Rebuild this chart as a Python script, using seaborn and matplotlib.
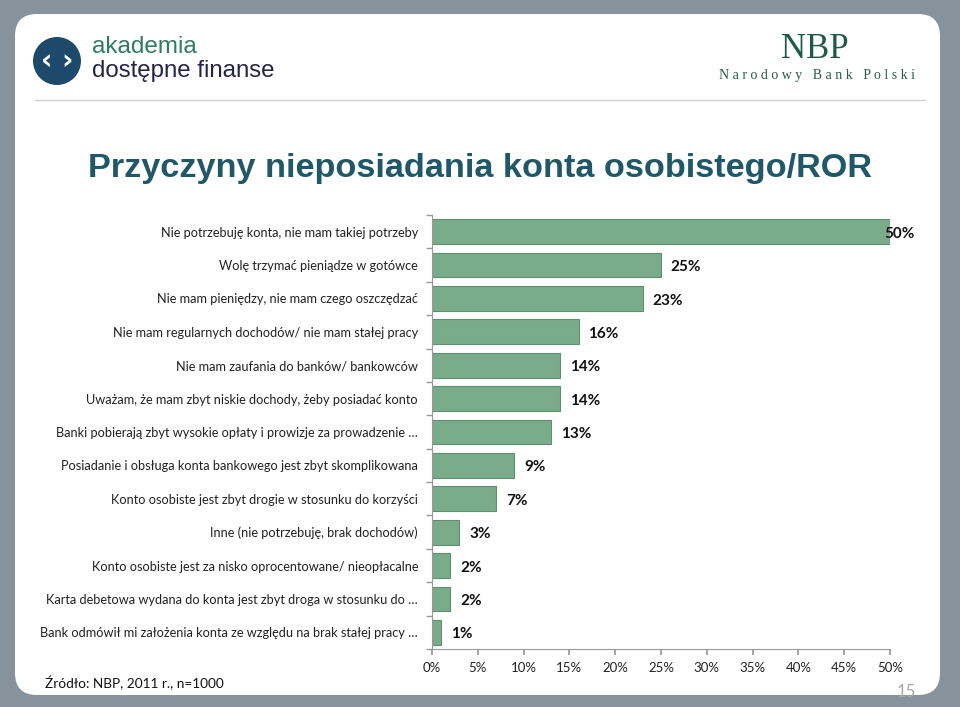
import matplotlib
matplotlib.use("Agg")
import matplotlib.pyplot as plt
from matplotlib.patches import FancyBboxPatch, Circle
from matplotlib.transforms import IdentityTransform
import numpy as np
import pandas as pd
import seaborn as sns

categories = [
    "Nie potrzebuję konta, nie mam takiej potrzeby",
    "Wolę trzymać pieniądze w gotówce",
    "Nie mam pieniędzy, nie mam czego oszczędzać",
    "Nie mam regularnych dochodów/ nie mam stałej pracy",
    "Nie mam zaufania do banków/ bankowców",
    "Uważam, że mam zbyt niskie dochody, żeby posiadać konto",
    "Banki pobierają zbyt wysokie opłaty i prowizje za prowadzenie …",
    "Posiadanie i obsługa konta bankowego jest zbyt skomplikowana",
    "Konto osobiste jest zbyt drogie w stosunku do korzyści",
    "Inne (nie potrzebuję, brak dochodów)",
    "Konto osobiste jest za nisko oprocentowane/ nieopłacalne",
    "Karta debetowa wydana do konta jest zbyt droga w stosunku do …",
    "Bank odmówił mi założenia konta ze względu na brak stałej pracy …",
]
values = [50, 25, 23, 16, 14, 14, 13, 9, 7, 3, 2, 2, 1]
xticks = [0, 5, 10, 15, 20, 25, 30, 35, 40, 45, 50]
xtick_labels = [f"{t}%" for t in xticks]

title = "Przyczyny nieposiadania konta osobistego/ROR"
source = "Źródło: NBP, 2011 r., n=1000"
page = "15"

sns.set_theme(style="white")
plt.rcParams["font.family"] = ["Lato", "DejaVu Sans"]

W, H = 960, 707
fig = plt.figure(figsize=(W / 100, H / 100), dpi=100)
fig.patch.set_facecolor("#86939c")

# white rounded panel (pixel coords, origin bottom-left)
panel = FancyBboxPatch((15, H - 695), 925, 681,
                       boxstyle="round,pad=0,rounding_size=22",
                       transform=IdentityTransform(), facecolor="white",
                       edgecolor="none", zorder=-5)
fig.patches.append(panel)

# header line
fig.add_artist(plt.Line2D([35 / W, 925 / W], [1 - 100 / H, 1 - 100 / H],
                          color="#d0d0d0", lw=1, transform=fig.transFigure))

# logo
logo = Circle((57, H - 61), 24, transform=IdentityTransform(),
              facecolor="#1d4a6a", edgecolor="none", zorder=-4)
fig.patches.append(logo)
fig.text(57 / W, 1 - 61 / H, "‹ ›", color="white", fontsize=20, fontweight="bold",
         ha="center", va="center", family="DejaVu Sans")
fig.text(92 / W, 1 - 47 / H, "akademia", color="#2e7d5f", fontsize=17.5,
         ha="left", va="center", family="Liberation Sans")
fig.text(92 / W, 1 - 71 / H, "dostępne finanse", color="#24244a", fontsize=17.3,
         ha="left", va="center", family="Liberation Sans")

fig.text(815 / W, 1 - 50 / H, "NBP", color="#1f5a45", fontsize=25,
         ha="center", va="center", family="Liberation Serif")
fig.text(817 / W, 1 - 75 / H, "N a r o d o w y   B a n k   P o l s k i",
         color="#2b5a4a", fontsize=10, ha="center", va="center",
         family="Liberation Serif")

# title
fig.text(480 / W, 1 - 169 / H, title, color="#215868", fontsize=24.7,
         fontweight="bold", ha="center", va="center", family="Liberation Sans")

# chart
ax = fig.add_axes([432 / W, 1 - 649 / H, (890 - 432) / W, (649 - 215) / H])
df = pd.DataFrame({"cat": categories, "val": values})
sns.barplot(data=df, x="val", y="cat", ax=ax, color="#7aab8a", orient="h",
            width=0.74, edgecolor="#5f8f6f", linewidth=0.8, saturation=1)

ax.set_xlim(0, 50)
ax.set_ylim(len(categories) - 0.5, -0.5)
ax.set_xlabel("")
ax.set_ylabel("")
ax.set_xticks(xticks)
ax.set_xticklabels(xtick_labels, fontsize=9.5, color="#222222")
ax.tick_params(axis="y", length=0, labelsize=9.15, labelcolor="#222222", pad=10)
ax.tick_params(axis="x", length=4, color="#999999", bottom=True, pad=5)
ax.set_yticks(np.arange(len(categories)), minor=False)
ax.set_yticks(np.arange(len(categories) + 1) - 0.5, minor=True)
ax.tick_params(axis="y", which="minor", length=4, color="#999999", left=True)
for s in ["top", "right"]:
    ax.spines[s].set_visible(False)
for s in ["left", "bottom"]:
    ax.spines[s].set_color("#999999")
    ax.spines[s].set_linewidth(0.8)
ax.set_facecolor("none")

for i, v in enumerate(values):
    if v >= 50:
        ax.annotate(f"{v}%", (v, i), xytext=(-4, -1.5), textcoords="offset points",
                    ha="left", va="center", fontsize=11, fontweight="bold",
                    color="#111111", annotation_clip=False)
    else:
        ax.annotate(f"{v}%", (v, i), xytext=(7, -1.5), textcoords="offset points",
                    ha="left", va="center", fontsize=11, fontweight="bold",
                    color="#111111")

fig.text(45 / W, 1 - 683 / H, source, fontsize=9.8, color="#111111",
         ha="left", va="center")
fig.text(906 / W, 1 - 692 / H, page, fontsize=12, color="#a8a8a8",
         ha="center", va="center", zorder=-3)

fig.savefig("out.png", dpi=100, facecolor=fig.get_facecolor())
